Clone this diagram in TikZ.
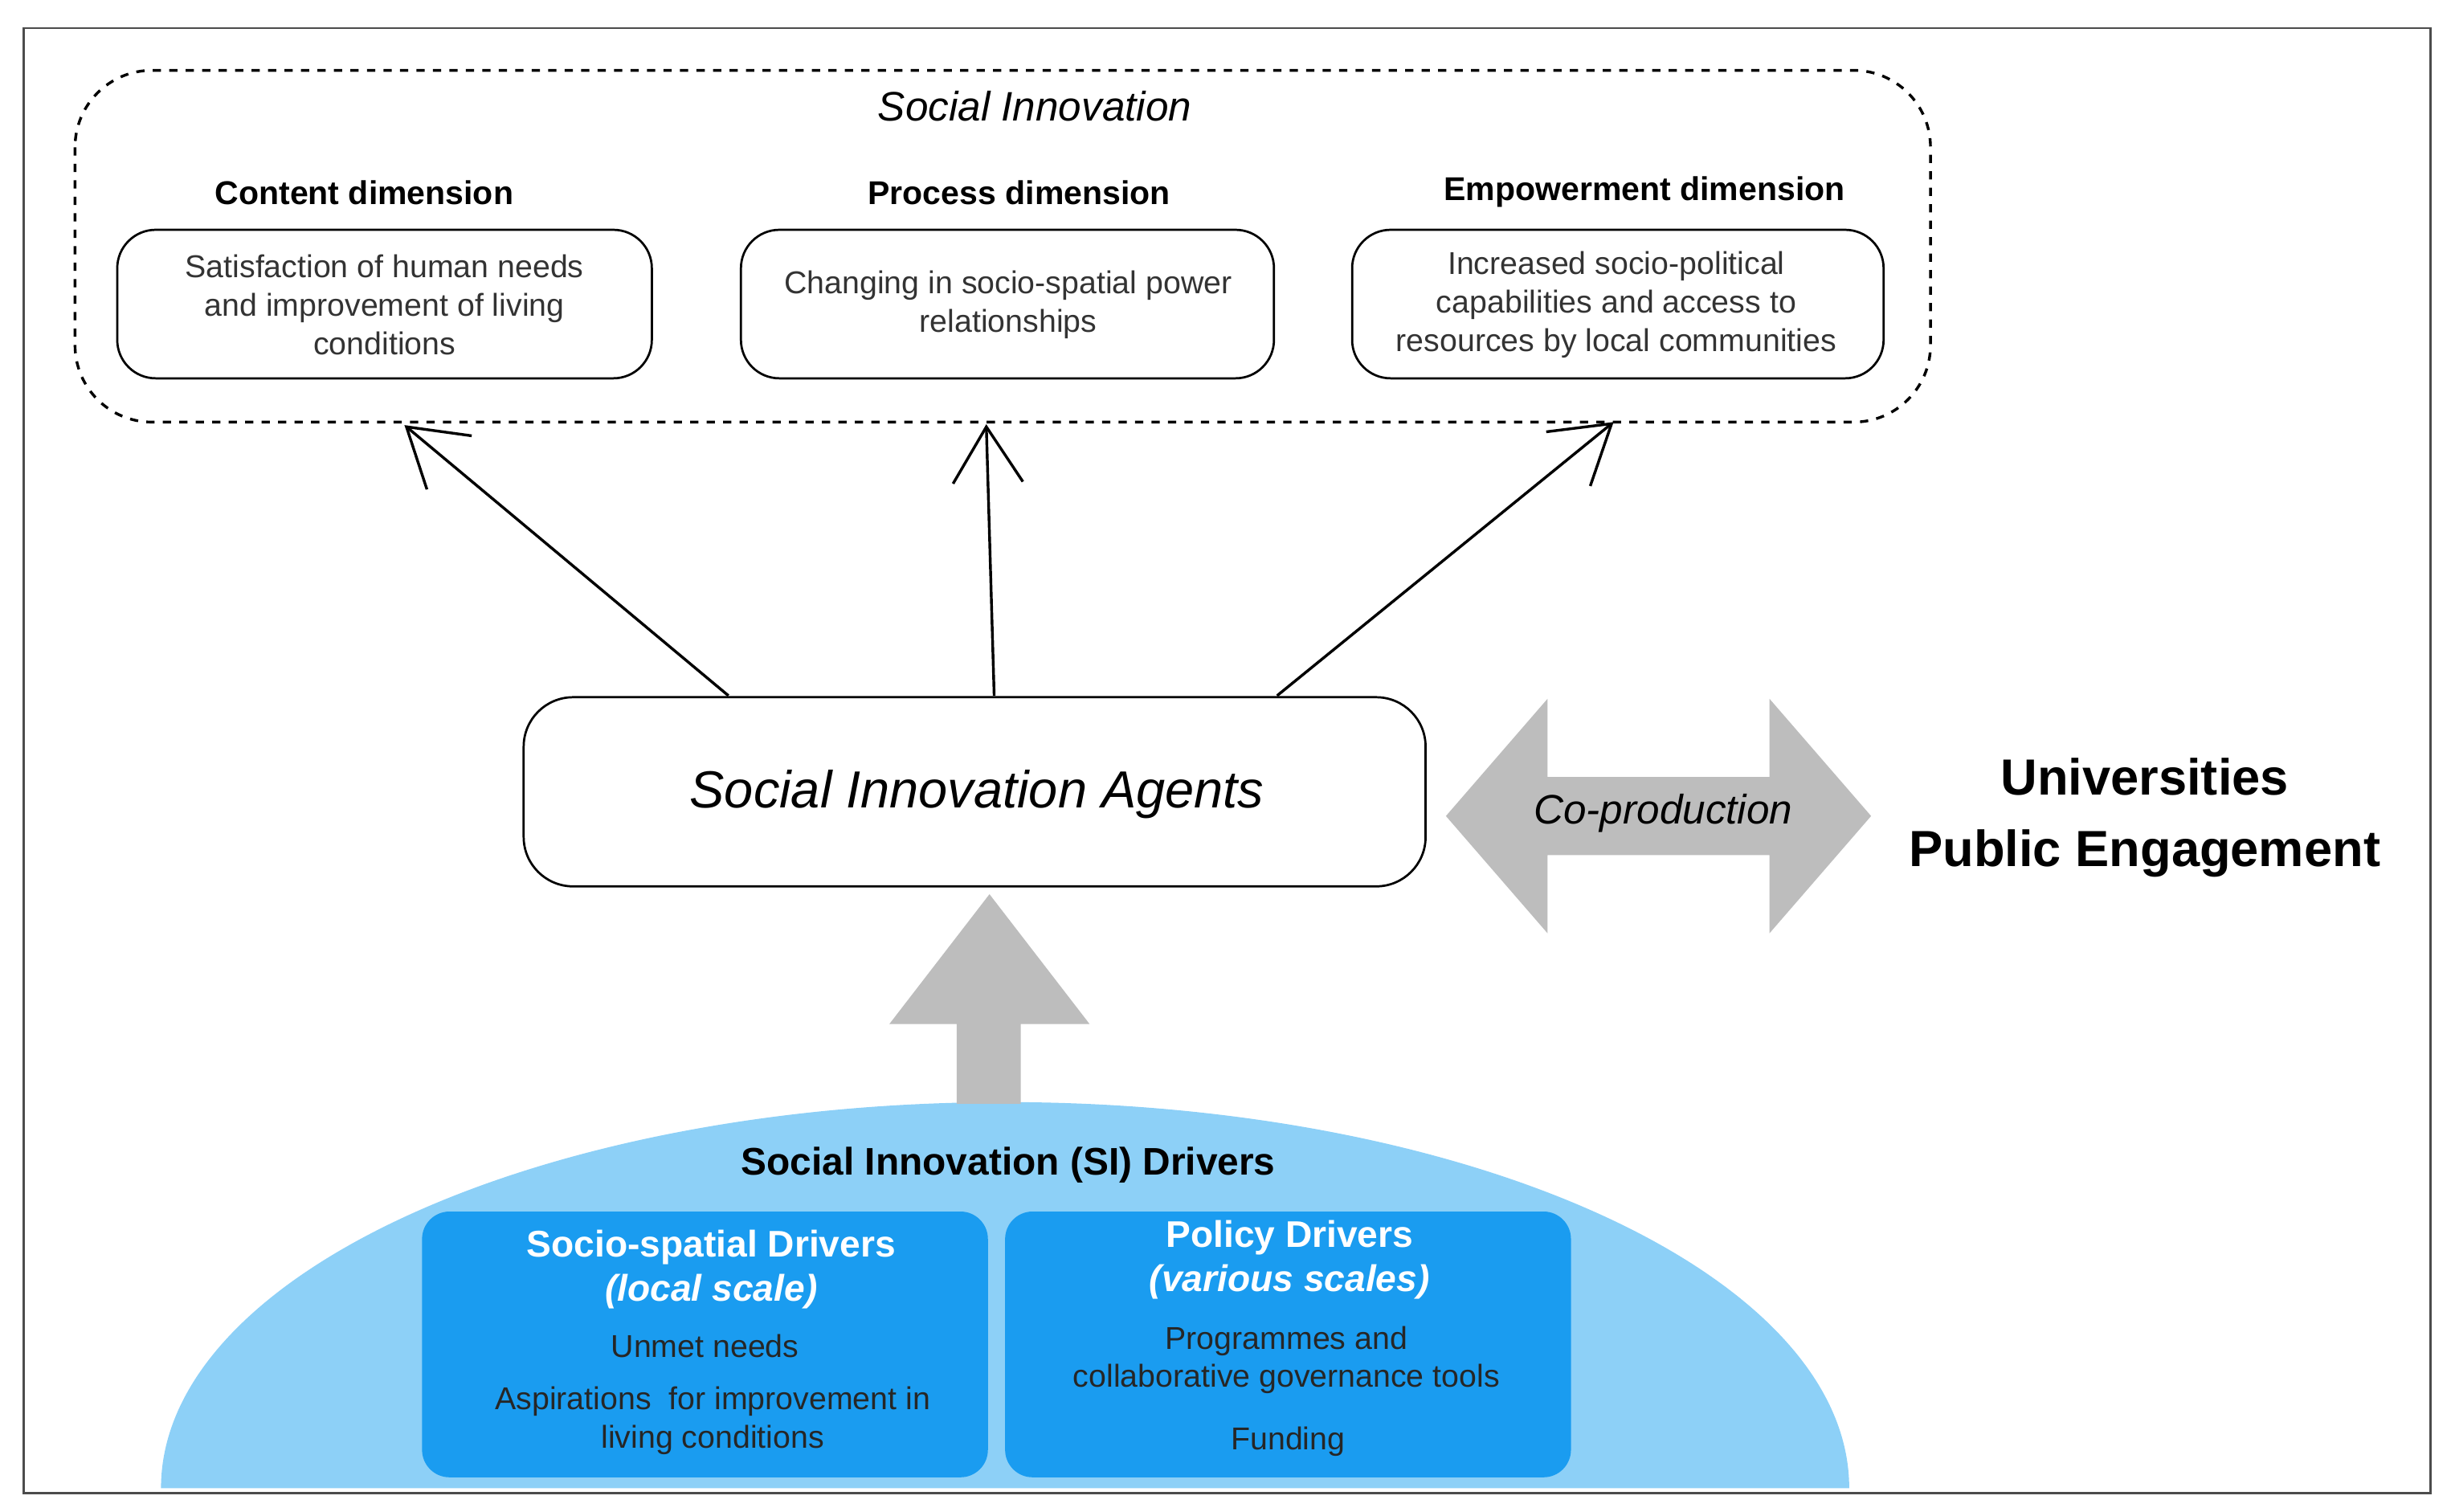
\documentclass[tikz,border=0pt]{standalone}
\usepackage{fontspec}
\setmainfont{Liberation Sans}
\usetikzlibrary{calc}
\definecolor{lblue}{HTML}{8DD0F7}
\definecolor{dblue}{HTML}{1A9CF0}
\definecolor{agray}{HTML}{BDBDBD}
\tikzset{
 rbox/.style={draw,rounded corners=14pt,line width=0.8pt},
 btxt/.style={font=\fontsize{11.5}{14}\selectfont,align=center,text=black!80},
 head/.style={font=\fontsize{12}{14}\selectfont\bfseries},
 arr/.style={line width=1pt},
 bbox/.style={fill=dblue,rounded corners=10pt},
}
\newcommand{\openarrow}[2]{%
 \draw[arr] (#1) -- (#2);
 \draw[arr,line join=miter] ($(#2)!24pt!32:(#1)$) -- (#2) -- ($(#2)!24pt!-32:(#1)$);}
\begin{document}
\begin{tikzpicture}[x=0.02cm,y=-0.02cm]
\useasboundingbox (0,0) rectangle (1568,967);
\begin{scope}
\clip (15,18) rectangle (1555,952);
\fill[lblue] (103,952) arc[start angle=180,end angle=360,x radius=540,y radius=247];
\end{scope}
\draw[line width=0.8pt,black!70] (15,18) rectangle (1555,955);
% top dashed box
\draw[dashed,line width=1pt,rounded corners=28pt] (48,45) rectangle (1235,270);
\node[font=\fontsize{15}{18}\selectfont\itshape] (si) at (662,68) {Social Innovation};
\node[head] (h1) at (233,123) {Content dimension};
\node[head] (h2) at (652,123) {Process dimension};
\node[head] (h3) at (1052,123) {Empowerment dimension};
\draw[rbox] (75,147) rectangle (417,242);
\node[btxt] (b1) at (246,195) {Satisfaction of human needs\\and improvement of living\\conditions};
\draw[rbox] (474,147) rectangle (815,242);
\node[btxt] (b2) at (645,195) {Changing in socio-spatial power\\relationships};
\draw[rbox] (865,147) rectangle (1205,242);
\node[btxt] (b3) at (1034,195) {Increased socio-political\\capabilities and access to\\resources by local communities};
% agents
\draw[rbox,rounded corners=18pt] (335,446) rectangle (912,567);
\node[font=\fontsize{19}{22}\selectfont\itshape] (ag) at (625,508) {Social Innovation Agents};
\coordinate (a1) at (466,445); \coordinate (t1) at (260,273);
\coordinate (a2) at (636,445); \coordinate (t2) at (631,273);
\coordinate (a3) at (817,445); \coordinate (t3) at (1031,271);
\openarrow{a1}{t1}
\openarrow{a2}{t2}
\openarrow{a3}{t3}
% co-production
\fill[agray] (925,522) -- (990,447) -- (990,497) -- (1132,497) -- (1132,447) -- (1197,522) -- (1132,597) -- (1132,547) -- (990,547) -- (990,597) -- cycle;
\node[font=\fontsize{15}{18}\selectfont\itshape] (cp) at (1064,520) {Co-production};
\node[font=\fontsize{18.5}{26}\selectfont\bfseries,align=center] (up) at (1372,523) {Universities\\Public Engagement};
% up arrow
\fill[agray] (612,706) -- (612,655) -- (569,655) -- (633,572) -- (697,655) -- (653,655) -- (653,706) -- cycle;
% drivers
\node[font=\fontsize{14}{16}\selectfont\bfseries] (dr) at (645,745) {Social Innovation (SI) Drivers};
\fill[bbox] (270,775) rectangle (632,945);
\fill[bbox] (643,775) rectangle (1005,945);
\node[font=\fontsize{13.5}{16}\selectfont\bfseries,text=white,align=center] (s1) at (455,812) {Socio-spatial Drivers\\\textit{(local scale)}};
\node[btxt,text=black!85] (s1a) at (451,861) {Unmet needs};
\node[btxt,text=black!85] (s1b) at (456,909) {Aspirations \ for improvement in\\living conditions};
\node[font=\fontsize{13.5}{16}\selectfont\bfseries,text=white,align=center] (s2) at (825,806) {Policy Drivers\\\textit{(various scales)}};
\node[btxt,text=black!85] (s2a) at (823,870) {Programmes and\\collaborative governance tools};
\node[btxt,text=black!85] (s2b) at (824,922) {Funding};
\end{tikzpicture}
\end{document}
